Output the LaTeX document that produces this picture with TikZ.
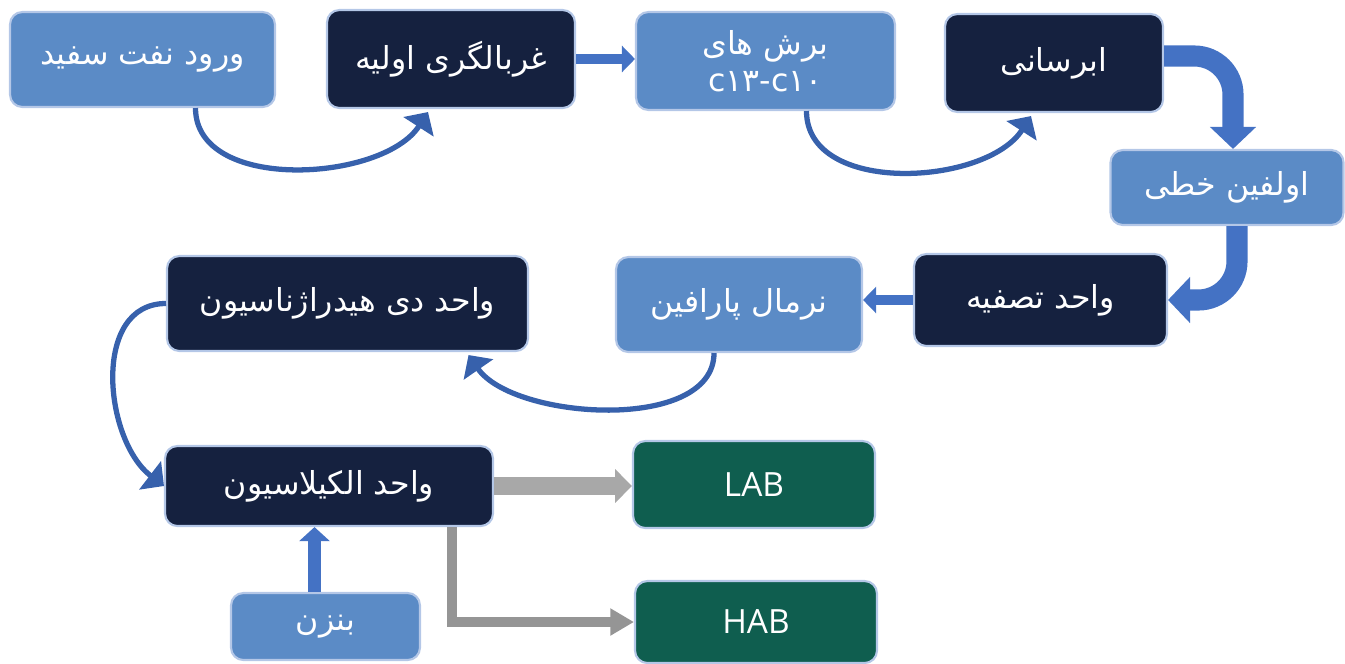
\documentclass[tikz,border=0pt]{standalone}
\usepackage{fontspec}
\usetikzlibrary{arrows.meta,calc}
\TeXXeTstate=1
\newfontfamily\fafont[Script=Arabic]{DejaVu Sans}
\newfontfamily\enfont{Open Sans}
\definecolor{boxlight}{HTML}{5B8BC6}
\definecolor{boxdark}{HTML}{15213F}
\definecolor{boxgreen}{HTML}{0F5E4F}
\definecolor{boxedge}{HTML}{B4C7E7}
\definecolor{arrowblue}{HTML}{4472C4}
\definecolor{arrowdeep}{HTML}{3761AC}
\definecolor{arrowgrey}{HTML}{A8A8A8}
\definecolor{arrowgreydark}{HTML}{959595}
\tikzset{
  box/.style={draw=boxedge, line width=1.2pt, rounded corners=7pt, text=white,
    font=\fafont\fontsize{18}{21}\selectfont, align=center, inner sep=0pt},
  lightbox/.style={box, fill=boxlight},
  darkbox/.style={box, fill=boxdark},
  greenbox/.style={box, fill=boxgreen, font=\enfont\fontsize{19}{22}\selectfont},
  swoop/.style={draw=arrowdeep, line width=3pt, -{Triangle[length=10pt,width=20pt]}},
  thinflow/.style={draw=arrowblue, line width=5.7pt, -{Triangle[length=7.4pt,width=14.7pt]}},
  bigflow/.style={draw=arrowblue, line width=12pt, rounded corners=22pt,
    -{Triangle[length=12.5pt,width=25.5pt]}},
  greyflow/.style={draw=arrowgrey, line width=10pt, -{Triangle[length=9.6pt,width=18.7pt]}},
  greyelbow/.style={draw=arrowgreydark, line width=6.2pt, -{Triangle[length=13.5pt,width=14.7pt]}}
}
\begin{document}
\begin{tikzpicture}[x=0.02cm,y=-0.02cm]
      \useasboundingbox (0,0) rectangle (1345,663);
      \node[lightbox, minimum width=5.3cm, minimum height=1.9cm] (entry) at (142.5,59.5) {\beginR ورود نفت سفید\endR};
      \node[darkbox, minimum width=4.96cm, minimum height=1.96cm] (screen) at (451,59) {\beginR غربالگری اولیه\endR};
      \node[lightbox, minimum width=5.18cm, minimum height=1.96cm] (cuts) at (765.5,61) {\beginR برش های\endR\\c۱۳-c۱۰};
      \node[darkbox, minimum width=4.36cm, minimum height=1.96cm] (hydro) at (1054,63) {\beginR ابرسانی\endR};
      \node[lightbox, minimum width=4.66cm, minimum height=1.5cm] (olefin) at (1227,187.5) {\beginR اولفین خطی\endR};
      \node[darkbox, minimum width=5.06cm, minimum height=1.84cm] (purify) at (1040.5,300) {\beginR واحد تصفیه\endR};
      \node[lightbox, minimum width=4.92cm, minimum height=1.9cm] (paraffin) at (739,304.5) {\beginR نرمال پارافین\endR};
      \node[darkbox, minimum width=7.22cm, minimum height=1.9cm] (dehydro) at (347.5,303.5) {\beginR واحد دی هیدراژناسیون\endR};
      \node[darkbox, minimum width=6.56cm, minimum height=1.6cm] (alkyl) at (329,486) {\beginR واحد الکیلاسیون\endR};
      \node[lightbox, minimum width=3.78cm, minimum height=1.34cm] (benzene) at (325.5,626.5) {\beginR بنزن\endR};
      \node[greenbox, minimum width=4.84cm, minimum height=1.74cm] (lab) at (754,484.5) {LAB};
      \node[greenbox, minimum width=4.84cm, minimum height=1.64cm] (hab) at (756,622) {HAB};
      \coordinate (feed) at ($(benzene.north)+(-11,0)$);
      \begin{scope}
        \draw[swoop] ($(entry.south)+(53,0)$) .. controls +(0,85) and +(-45,70) .. ($(screen.south)+(-23,3)$);
        \draw[thinflow] (screen.east) -- (screen.east -| cuts.west);
        \draw[swoop] ($(cuts.south)+(41,0)$) .. controls +(0,85) and +(-45,70) .. ($(hydro.south)+(-23,3)$);
        \draw[bigflow] ($(hydro.east)+(0,-7)$) -| ($(olefin.north)+(6,0)$);
        \draw[bigflow] ($(olefin.south)+(10,0)$) |- (purify.east);
        \draw[thinflow] (purify.west) -- (purify.west -| paraffin.east);
        \draw[swoop] ($(paraffin.south)+(-25,0)$) .. controls +(0,80) and +(45,65) .. ($(dehydro.south)+(121,3)$);
        \draw[swoop] (dehydro.west) .. controls +(-75,0) and +(-60,-46) .. (alkyl.west);
        \draw[thinflow, line width=7.4pt, -{Triangle[length=8pt,width=17pt]}] (feed) -- (feed |- alkyl.south);
        \draw[greyflow] (alkyl.east) -- (alkyl.east -| lab.west);
        \draw[greyelbow] ($(alkyl.south)+(123,0)$) |- (hab.west);
      \end{scope}
    \end{tikzpicture}
\end{document}
